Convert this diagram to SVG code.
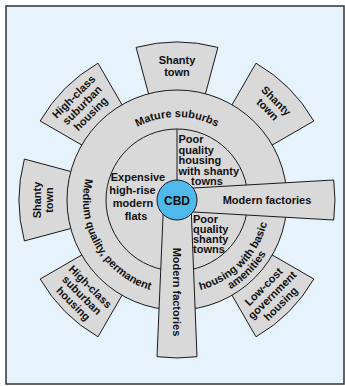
<svg xmlns="http://www.w3.org/2000/svg" width="345" height="386" viewBox="0 0 345 386">
<style>
.blk{fill:#d9d9d9;stroke:#1a1a1a;stroke-width:1}
.t{font-family:"Liberation Sans",Arial,sans-serif;font-weight:bold;font-size:11px;fill:#111}
.c{text-anchor:middle}
</style>
<defs>
<path id="pMature" d="M118.3,141.3 A83,83 0 0 1 235.7,141.3"/>
<path id="pMedium" d="M100,146.1 A94,94 0 0 0 185.2,293.6"/>
<path id="pHousing" d="M160.9,291.6 A93,93 0 0 0 268.6,183.9"/>
<path id="pAmen" d="M158.9,302.4 A104,104 0 0 0 279.4,182"/>
</defs>
<rect id="frame" x="6" y="6" width="338" height="378" fill="#e6f3fc" stroke="#333" stroke-width="1.5"/>
<g id="outer-blocks">
<g id="shanty-top"><path class="blk" d="M149.05,95.7 L136.1,47.4 A158,158 0 0 1 217.9,47.4 L204.95,95.7 Z"/>
<text class="t c" x="177" y="64">Shanty</text><text class="t c" x="177" y="76">town</text></g>
<g id="shanty-topright"><path class="blk" d="M231,106.5 L256,63.2 A158,158 0 0 1 313.8,121 L270.5,146 Z"/>
<g transform="translate(272,105) rotate(45)"><text class="t c" x="0" y="-2">Shanty</text><text class="t c" x="0" y="10">town</text></g></g>
<g id="highclass-topleft"><path class="blk" d="M83.5,146 L40.2,121 A158,158 0 0 1 98,63.2 L123,106.5 Z"/>
<g transform="translate(82,105) rotate(-45)"><text class="t c" x="0" y="-8">High-class</text><text class="t c" x="0" y="4">suburban</text><text class="t c" x="0" y="16">housing</text></g></g>
<g id="shanty-left"><path class="blk" d="M72.7,228 L24.4,240.9 A158,158 0 0 1 24.4,159.1 L72.7,172 Z"/>
<g transform="translate(43,200) rotate(-90)"><text class="t c" x="0" y="-2">Shanty</text><text class="t c" x="0" y="10">town</text></g></g>
<g id="highclass-bottomleft"><path class="blk" d="M123,293.5 L98,336.8 A158,158 0 0 1 40.2,279 L83.5,254 Z"/>
<g transform="translate(82,295) rotate(45)"><text class="t c" x="0" y="-8">High-class</text><text class="t c" x="0" y="4">suburban</text><text class="t c" x="0" y="16">housing</text></g></g>
<g id="lowcost-bottomright"><path class="blk" d="M270.5,254 L313.8,279 A158,158 0 0 1 256,336.8 L231,293.5 Z"/>
<g transform="translate(272,295) rotate(-45)"><text class="t c" x="0" y="-8">Low-cost</text><text class="t c" x="0" y="4">government</text><text class="t c" x="0" y="16">housing</text></g></g>
</g>
<g id="rings">
<circle id="outer-ring" cx="177" cy="200" r="110" class="blk"/>
<circle id="inner-ring" cx="177" cy="200" r="71" class="blk"/>
<line x1="177" y1="129" x2="177" y2="182" stroke="#1a1a1a" stroke-width="1"/>
<text class="t c"><textPath href="#pMature" startOffset="50%">Mature suburbs</textPath></text>
<text class="t c"><textPath href="#pMedium" startOffset="50%">Medium quality, permanent</textPath></text>
<text class="t c"><textPath href="#pHousing" startOffset="50%">housing with basic</textPath></text>
<text class="t c"><textPath href="#pAmen" startOffset="50%">amenities</textPath></text>
<g id="expensive"><text class="t c" x="138" y="181">Expensive</text><text class="t c" x="132.5" y="194">high-rise</text><text class="t c" x="133" y="207">modern</text><text class="t c" x="136" y="220">flats</text></g>
<g id="poor-upper"><text class="t" x="178.5" y="143">Poor</text><text class="t" x="178.5" y="153.5">quality</text><text class="t" x="178.5" y="164">housing</text><text class="t" x="178.5" y="174.5">with shanty</text><text class="t" x="191" y="185">towns</text></g>
<g id="poor-lower"><text class="t" x="193" y="223">Poor</text><text class="t" x="193" y="233">quality</text><text class="t" x="193" y="243">shanty</text><text class="t" x="193" y="253">towns</text></g>
</g>
<g id="factories-right"><path class="blk" d="M185,188.5 L333.7,180 A158,158 0 0 1 333.7,220 L185,211.5 Z"/>
<text class="t c" x="267" y="204">Modern factories</text></g>
<g id="factories-down"><path class="blk" d="M163.5,205 L157,356.7 A158,158 0 0 0 197,356.7 L191,205 Z"/>
<g transform="translate(177,292) rotate(90)"><text class="t c" x="0" y="4">Modern factories</text></g></g>
<g id="cbd"><circle cx="177" cy="200" r="20" fill="#4fb9ec" stroke="#1a1a1a" stroke-width="1"/>
<text class="t c" x="177" y="204.5" style="font-size:12px">CBD</text></g>
</svg>
